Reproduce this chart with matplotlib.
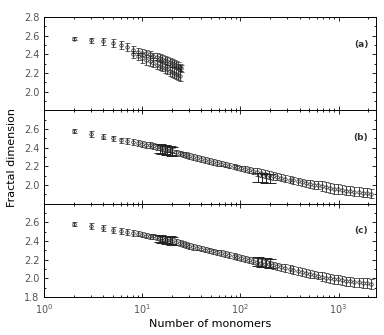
import matplotlib
matplotlib.use('Agg')
import matplotlib.pyplot as plt
from matplotlib.ticker import LogLocator, NullFormatter, MultipleLocator

# panel (a): small clusters only
n_a = [2, 3, 4, 5, 6, 7, 8, 9, 10, 11, 12, 13, 14, 15, 16, 17, 18, 19, 20, 21, 22, 23, 24, 25]
d_a = [2.57, 2.55, 2.54, 2.52, 2.50, 2.48, 2.45, 2.43, 2.42, 2.41, 2.40, 2.38, 2.37, 2.36,
       2.35, 2.34, 2.33, 2.32, 2.31, 2.30, 2.29, 2.28, 2.26, 2.25]
e_a = [0.02, 0.03, 0.04, 0.04, 0.04, 0.04, 0.04, 0.04, 0.04, 0.04, 0.04, 0.04, 0.04, 0.04,
       0.04, 0.04, 0.04, 0.04, 0.04, 0.04, 0.04, 0.04, 0.04, 0.04]
n_a2 = [8, 9, 10, 11, 12, 13, 14, 15, 16, 17, 18, 19, 20, 21, 22, 23, 24]
d_a2 = [2.40, 2.38, 2.36, 2.34, 2.33, 2.31, 2.29, 2.28, 2.27, 2.25, 2.24, 2.22, 2.21, 2.20,
        2.19, 2.18, 2.17]
e_a2 = [0.04, 0.04, 0.05, 0.05, 0.05, 0.05, 0.05, 0.05, 0.05, 0.05, 0.05, 0.05, 0.05, 0.05,
        0.05, 0.05, 0.05]

# panels (b) and (c): full range of cluster sizes
n_bc = [2, 3, 4, 5, 6, 7, 8, 9, 10, 11, 12, 13, 14, 15, 16, 17, 18, 19, 20, 22, 24, 26, 28,
        30, 33, 36, 40, 44, 48, 53, 58, 64, 70, 77, 85, 93, 102, 112, 123, 135, 148, 163,
        179, 197, 216, 238, 261, 287, 316, 347, 382, 420, 462, 508, 559, 615, 676, 744, 818,
        900, 990, 1089, 1198, 1318, 1450, 1595, 1754, 1930, 2123]
d_b = [2.58, 2.55, 2.52, 2.50, 2.48, 2.47, 2.46, 2.45, 2.44, 2.43, 2.43, 2.42, 2.41, 2.41,
       2.40, 2.39, 2.38, 2.38, 2.37, 2.35, 2.34, 2.33, 2.32, 2.31, 2.30, 2.29, 2.28, 2.27,
       2.26, 2.25, 2.24, 2.23, 2.22, 2.21, 2.20, 2.19, 2.18, 2.17, 2.16, 2.15, 2.14, 2.13,
       2.12, 2.11, 2.10, 2.09, 2.08, 2.07, 2.06, 2.05, 2.04, 2.03, 2.02, 2.01, 2.00, 2.00,
       1.99, 1.98, 1.97, 1.96, 1.96, 1.95, 1.94, 1.94, 1.93, 1.93, 1.92, 1.92, 1.91]
d_c = [2.58, 2.56, 2.54, 2.52, 2.51, 2.50, 2.49, 2.48, 2.47, 2.46, 2.45, 2.45, 2.44, 2.43,
       2.43, 2.42, 2.41, 2.41, 2.40, 2.39, 2.38, 2.37, 2.36, 2.35, 2.34, 2.33, 2.32, 2.31,
       2.30, 2.29, 2.28, 2.27, 2.26, 2.25, 2.24, 2.23, 2.22, 2.21, 2.20, 2.19, 2.18, 2.17,
       2.16, 2.15, 2.14, 2.13, 2.12, 2.11, 2.10, 2.09, 2.08, 2.07, 2.06, 2.05, 2.04, 2.03,
       2.02, 2.01, 2.00, 1.99, 1.99, 1.98, 1.97, 1.97, 1.96, 1.96, 1.95, 1.95, 1.94]
e_bc = [0.02, 0.03, 0.03, 0.03, 0.03, 0.03, 0.03, 0.03, 0.03, 0.03, 0.03, 0.03, 0.03, 0.03,
        0.03, 0.03, 0.03, 0.03, 0.03, 0.03, 0.03, 0.03, 0.03, 0.03, 0.03, 0.03, 0.03, 0.03,
        0.03, 0.03, 0.03, 0.03, 0.03, 0.03, 0.03, 0.03, 0.03, 0.03, 0.03, 0.03, 0.04, 0.04,
        0.04, 0.04, 0.04, 0.04, 0.04, 0.04, 0.04, 0.04, 0.04, 0.04, 0.04, 0.04, 0.04, 0.04,
        0.05, 0.05, 0.05, 0.05, 0.05, 0.05, 0.05, 0.05, 0.05, 0.05, 0.05, 0.05, 0.05]

# thicker overlapping estimates around N~17 and N~180
n_k1 = [15, 16, 17, 18, 19, 20]
d_k1b = [2.39, 2.38, 2.38, 2.37, 2.37, 2.36]
d_k1c = [2.43, 2.42, 2.42, 2.41, 2.41, 2.40]
n_k2 = [150, 165, 180, 200]
d_k2b = [2.08, 2.08, 2.07, 2.07]
d_k2c = [2.18, 2.17, 2.17, 2.16]

fig, axes = plt.subplots(3, 1, figsize=(3.84, 3.35), dpi=100, sharex=True)
fig.subplots_adjust(left=0.115, right=0.979, top=0.949, bottom=0.113, hspace=0)

style = dict(fmt='o', ms=2.5, mfc='none', mec='#222222', ecolor='#222222',
             elinewidth=0.6, capsize=1.8, capthick=0.6, mew=0.5)
box = dict(fmt='none', ecolor='#222222', elinewidth=0.7, capsize=4, capthick=0.7)

ax = axes[0]
ax.errorbar(n_a, d_a, yerr=e_a, **style)
ax.errorbar(n_a2, d_a2, yerr=e_a2, **style)

ax = axes[1]
ax.errorbar(n_bc, d_b, yerr=e_bc, **style)
ax.errorbar(n_k1, d_k1b, yerr=0.05, **box)
ax.errorbar(n_k2, d_k2b, yerr=0.05, **box)

ax = axes[2]
ax.errorbar(n_bc, d_c, yerr=e_bc, **style)
ax.errorbar(n_k1, d_k1c, yerr=0.04, **box)
ax.errorbar(n_k2, d_k2c, yerr=0.05, **box)

yticks = [[2.0, 2.2, 2.4, 2.6, 2.8], [2.0, 2.2, 2.4, 2.6], [1.8, 2.0, 2.2, 2.4, 2.6]]
for ax, lab, yt in zip(axes, ['(a)', '(b)', '(c)'], yticks):
    ax.set_xscale('log')
    ax.set_xlim(1, 2400)
    ax.set_ylim(1.8, 2.8)
    ax.set_yticks(yt)
    ax.set_yticklabels(['%.1f' % v for v in yt])
    ax.yaxis.set_minor_locator(MultipleLocator(0.1))
    ax.xaxis.set_major_locator(LogLocator(base=10))
    ax.xaxis.set_minor_locator(LogLocator(base=10, subs=range(2, 10)))
    ax.xaxis.set_minor_formatter(NullFormatter())
    ax.tick_params(which='both', direction='in', top=True, right=True,
                   labelsize=7, labelcolor='#555555', width=0.6)
    ax.tick_params(which='major', length=3)
    ax.tick_params(which='minor', length=1.5)
    for s in ax.spines.values():
        s.set_linewidth(0.7)
    ax.text(0.955, 0.71, lab, transform=ax.transAxes, ha='center', va='center',
            fontsize=6.5, fontweight='bold', color='#333333')

axes[2].set_xlabel('Number of monomers', fontsize=8, labelpad=2)
fig.text(0.03, 0.53, 'Fractal dimension', rotation=90, ha='center', va='center',
         fontsize=8)

fig.savefig('out.png', dpi=100)
